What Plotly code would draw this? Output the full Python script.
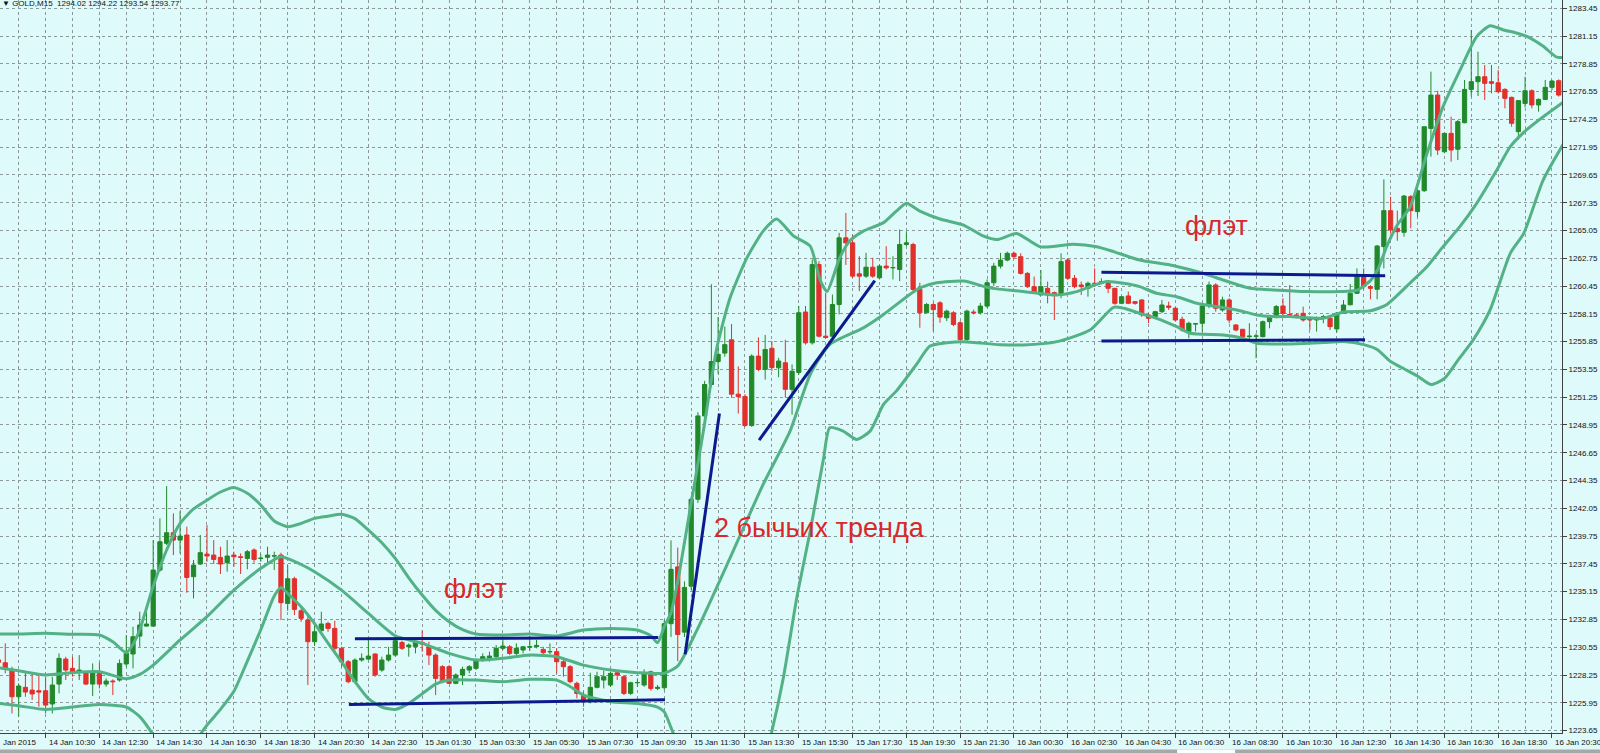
import plotly.graph_objects as go

# ---------------- DATA ----------------
bars = list(range(-1, 232))  # M15 bar index, bar 6 = 14 Jan 10:30

opens = [1229.50,
 1229.27,1228.72,1226.45,1227.23,1227.00,1226.95,1226.95,1225.85,1227.50,1229.57,
 1228.80,1228.52,1228.44,1227.50,1228.52,1227.50,1227.75,1227.83,1229.16,1229.99,
 1231.47,1232.30,1232.30,1236.94,1239.15,1240.03,1239.42,1239.84,1236.39,1237.44,
 1238.26,1238.18,1237.99,1237.55,1238.18,1238.04,1237.90,1238.60,1237.90,1237.99,
 1238.10,1238.18,1234.18,1236.22,1233.57,1232.80,1231.01,1231.92,1232.52,1232.11,
 1230.46,1229.35,1227.70,1229.49,1229.57,1229.99,1228.66,1229.49,1229.90,1230.95,
 1230.59,1230.59,1230.95,1230.59,1229.90,1228.94,1228.94,1227.56,1228.25,1228.66,
 1228.80,1229.49,1229.63,1229.77,1230.46,1230.59,1230.04,1230.32,1230.55,1230.60,
 1230.37,1230.18,1230.18,1229.35,1228.94,1227.56,1226.59,1226.04,1227.23,1227.83,
 1227.42,1228.44,1228.11,1226.73,1227.61,1227.42,1228.52,1227.14,1227.20,1232.50,
 1237.20,1231.80,1235.60,1242.80,1249.70,1252.30,1254.20,1254.90,1256.00,1251.50,
 1251.30,1248.90,1254.65,1253.55,1255.30,1253.68,1254.10,1251.90,1253.30,1258.30,
 1255.75,1262.23,1256.30,1256.30,1258.92,1264.44,1264.03,1261.46,1261.27,1262.01,
 1261.13,1262.10,1261.96,1261.82,1263.89,1263.89,1260.17,1258.24,1258.92,1259.06,
 1257.82,1258.24,1257.41,1256.03,1258.30,1258.24,1258.79,1260.72,1262.10,1262.60,
 1263.16,1262.88,1261.50,1260.40,1259.71,1260.26,1259.90,1259.71,1262.61,1261.09,
 1260.54,1260.26,1260.68,1260.68,1260.68,1260.26,1259.02,1259.63,1259.16,1259.30,
 1258.06,1257.92,1258.33,1258.80,1258.61,1257.70,1256.68,1257.31,1257.37,1258.88,
 1260.54,1258.47,1259.30,1257.23,1256.87,1256.26,1256.30,1256.26,1257.50,1257.92,
 1258.80,1258.10,1258.06,1258.19,1257.78,1257.64,1257.78,1257.78,1256.90,1258.20,
 1258.90,1259.85,1261.22,1260.40,1260.18,1263.71,1266.69,1265.23,1264.90,1267.85,
 1266.61,1268.34,1273.50,1276.26,1271.57,1273.09,1271.77,1273.97,1276.73,1277.37,
 1277.78,1277.37,1277.28,1276.73,1276.07,1273.23,1275.57,1276.62,1275.44,1275.90,
 1276.90,1277.45]

highs = [1229.60,
 1230.87,1228.94,1227.56,1228.44,1228.44,1228.17,1228.11,1228.11,1230.04,1229.76,
 1229.76,1229.90,1228.52,1229.21,1229.27,1227.97,1227.89,1229.54,1231.56,1232.25,
 1233.49,1233.49,1239.42,1241.22,1243.89,1241.63,1241.80,1240.53,1237.77,1239.84,
 1240.66,1239.42,1238.87,1239.42,1238.46,1238.32,1238.60,1238.73,1238.26,1238.87,
 1238.46,1238.37,1237.35,1236.39,1233.77,1233.35,1232.66,1233.49,1232.66,1232.75,
 1230.59,1229.49,1229.63,1230.04,1231.15,1230.04,1229.77,1230.59,1231.42,1231.09,
 1230.87,1231.20,1231.92,1231.01,1230.04,1229.07,1229.07,1228.39,1228.94,1229.07,
 1229.63,1230.04,1230.18,1230.73,1231.20,1230.73,1230.87,1230.65,1231.48,1231.15,
 1230.59,1230.87,1230.46,1229.63,1229.07,1227.70,1226.87,1228.44,1228.52,1228.61,
 1228.52,1228.52,1228.25,1227.70,1227.89,1228.72,1228.61,1227.42,1232.80,1239.40,
 1238.80,1236.00,1243.00,1250.00,1252.60,1260.60,1257.90,1257.10,1257.30,1253.80,
 1251.50,1254.80,1256.20,1256.40,1255.90,1254.50,1256.00,1253.96,1258.80,1258.80,
 1262.65,1262.50,1259.90,1259.75,1264.85,1266.50,1264.70,1262.92,1263.20,1262.79,
 1262.23,1263.75,1262.92,1265.13,1264.99,1264.03,1260.72,1259.06,1259.06,1259.20,
 1258.50,1258.37,1257.55,1258.50,1258.50,1259.06,1261.00,1262.37,1263.20,1263.30,
 1263.30,1263.16,1261.60,1261.23,1261.78,1260.82,1260.00,1263.16,1262.75,1261.37,
 1260.82,1260.82,1261.92,1261.09,1260.95,1260.30,1259.60,1259.99,1259.20,1259.35,
 1258.20,1258.40,1259.30,1259.16,1258.70,1257.92,1257.50,1257.37,1258.88,1260.82,
 1260.68,1259.57,1259.44,1257.30,1256.90,1257.37,1256.54,1257.60,1258.06,1258.88,
 1259.44,1260.54,1258.19,1258.75,1257.92,1257.92,1258.06,1258.06,1258.30,1259.29,
 1260.62,1261.91,1261.91,1260.53,1263.85,1269.28,1267.85,1266.69,1267.99,1267.99,
 1268.54,1273.64,1278.20,1276.62,1273.09,1274.47,1274.19,1277.51,1281.65,1279.85,
 1278.75,1278.75,1278.33,1276.82,1276.13,1275.85,1277.78,1276.73,1275.99,1277.51,
 1277.51,1277.56]

lows = [1229.20,
 1228.39,1225.07,1224.80,1226.45,1226.18,1225.63,1225.07,1225.07,1226.73,1227.83,
 1228.11,1227.83,1227.42,1226.51,1227.14,1227.28,1226.59,1227.70,1228.94,1228.80,
 1230.59,1232.25,1232.25,1236.80,1239.01,1238.18,1238.32,1235.06,1234.59,1237.35,
 1237.63,1237.44,1236.61,1236.80,1237.22,1236.61,1237.00,1237.55,1237.63,1237.49,
 1236.94,1232.80,1233.57,1233.21,1232.66,1227.42,1230.65,1231.70,1231.83,1230.18,
 1228.94,1227.56,1227.56,1229.35,1229.49,1228.11,1228.52,1229.35,1229.77,1230.32,
 1229.77,1230.04,1230.18,1229.07,1226.59,1227.56,1227.50,1227.50,1227.42,1228.39,
 1228.66,1229.35,1229.35,1229.63,1230.32,1229.90,1229.90,1230.04,1230.26,1230.46,
 1229.99,1229.99,1228.39,1228.11,1227.56,1226.32,1225.63,1225.90,1227.14,1227.14,
 1227.28,1227.83,1226.59,1226.59,1227.28,1227.28,1226.95,1227.00,1227.00,1231.40,
 1229.40,1231.40,1235.30,1242.50,1249.40,1252.10,1253.20,1254.60,1251.20,1249.90,
 1248.80,1248.80,1253.40,1252.70,1253.40,1252.90,1251.20,1249.80,1253.10,1255.60,
 1255.60,1256.20,1256.10,1256.17,1258.10,1262.20,1261.13,1260.03,1261.13,1261.13,
 1261.00,1261.82,1261.00,1260.86,1263.75,1260.03,1257.00,1258.24,1256.72,1257.41,
 1257.55,1257.13,1255.75,1255.75,1258.10,1258.10,1258.65,1260.44,1261.90,1262.50,
 1262.70,1261.40,1260.30,1259.85,1259.71,1259.02,1257.64,1259.44,1260.95,1260.26,
 1259.71,1259.57,1260.40,1260.60,1259.85,1258.90,1258.95,1258.95,1258.90,1257.90,
 1257.37,1257.80,1258.20,1258.47,1257.50,1256.68,1256.12,1256.68,1256.68,1258.61,
 1258.33,1258.33,1257.37,1256.70,1256.10,1255.85,1254.47,1256.20,1256.95,1257.78,
 1257.92,1257.92,1257.78,1257.50,1256.81,1256.68,1257.37,1256.81,1256.60,1258.19,
 1258.85,1259.80,1260.18,1259.35,1259.35,1261.91,1264.81,1264.20,1264.54,1265.23,
 1266.19,1268.25,1271.16,1271.30,1271.44,1270.75,1270.88,1273.92,1276.13,1276.18,
 1275.85,1276.40,1276.40,1275.16,1273.64,1272.54,1275.24,1275.16,1274.89,1275.85,
 1276.68,1276.13]

closes = [1229.30,
 1228.72,1226.45,1227.34,1226.84,1226.68,1226.84,1225.76,1227.42,1229.63,1228.66,
 1228.52,1228.66,1227.50,1228.44,1227.50,1227.75,1227.70,1229.21,1230.04,1231.42,
 1232.39,1232.47,1236.94,1239.28,1240.03,1239.42,1239.75,1236.33,1237.35,1238.38,
 1238.10,1237.82,1237.44,1238.10,1238.04,1237.99,1238.46,1237.82,1237.92,1238.18,
 1238.12,1234.24,1236.22,1233.68,1232.94,1231.01,1231.83,1232.47,1232.11,1230.46,
 1229.35,1227.70,1229.49,1229.63,1229.82,1228.25,1229.49,1229.90,1231.09,1230.46,
 1230.73,1231.01,1230.81,1229.90,1227.97,1227.70,1227.56,1228.25,1228.72,1228.94,
 1229.49,1229.77,1229.82,1230.46,1230.65,1230.04,1230.46,1230.59,1230.60,1230.70,
 1230.10,1230.18,1229.35,1228.94,1227.70,1226.73,1226.04,1227.23,1228.11,1228.11,
 1228.39,1228.25,1226.73,1227.61,1227.63,1228.39,1227.14,1227.23,1232.50,1237.00,
 1231.60,1235.50,1242.80,1249.70,1252.30,1254.20,1254.80,1255.60,1251.50,1251.30,
 1248.90,1254.65,1253.55,1255.20,1253.70,1254.24,1251.90,1253.40,1258.24,1255.75,
 1262.23,1256.30,1256.20,1258.92,1264.44,1264.03,1261.27,1261.27,1262.01,1261.27,
 1262.10,1261.96,1261.98,1263.89,1264.03,1260.17,1258.24,1258.92,1258.50,1257.88,
 1258.37,1257.27,1256.03,1258.37,1258.24,1258.79,1260.72,1262.10,1262.60,1263.16,
 1262.88,1261.50,1260.40,1259.99,1260.40,1259.71,1259.85,1262.47,1261.09,1260.40,
 1260.40,1260.68,1260.66,1260.82,1260.26,1259.02,1259.57,1259.02,1259.02,1258.06,
 1257.78,1258.33,1258.88,1258.69,1257.64,1256.81,1257.37,1257.33,1258.80,1260.54,
 1258.61,1259.30,1257.64,1256.81,1256.26,1256.30,1256.32,1257.50,1257.92,1258.75,
 1258.19,1258.06,1257.92,1257.64,1257.64,1257.78,1257.92,1257.09,1258.20,1258.88,
 1259.85,1261.22,1260.40,1260.26,1263.76,1266.69,1265.09,1264.95,1267.90,1266.69,
 1268.34,1273.64,1276.26,1271.71,1273.09,1271.71,1274.06,1276.73,1277.37,1277.78,
 1277.23,1277.23,1276.54,1275.99,1273.92,1275.80,1276.62,1275.44,1275.90,1276.90,
 1277.42,1276.26]

# Bollinger band lines (bar index, price)
upper_x = [-1, 2, 6, 10, 14, 16, 18, 19, 20, 22, 24, 26, 28, 30, 32, 34, 36, 38, 40, 42, 44, 46, 48, 50,
           52, 54, 56, 58, 60, 62, 64, 66, 68, 70, 74, 78, 82, 86, 90, 94, 96, 97, 98, 99, 100, 101.3,
           103.8, 105.8, 107.8, 110.3, 112.7, 114.7, 117.2, 119.7, 121.2, 122.2, 124.1, 125.6, 127.6,
           130.6, 132.5, 134, 136, 139, 142.5, 145.4, 147.5, 150.4, 153.9, 158.8, 162.3, 164.8, 168.7,
           173.2, 176.2, 178.7, 181.1, 185.1, 188.6, 193.5, 198.5, 201, 203, 204.1, 205.4, 207, 208.9,
           211.4, 213.8, 216.3, 218.8, 220.8, 222.8, 224.7, 226.7, 228.7, 230.7, 232]
upper_y = [1231.64, 1231.64, 1231.70, 1231.62, 1231.56, 1231.0, 1230.1, 1230.8, 1232.0, 1235.6, 1238.6,
           1240.8, 1242.0, 1242.73, 1243.4, 1243.78, 1243.3, 1242.32, 1241.0, 1240.53, 1240.8, 1241.22,
           1241.4, 1241.55, 1241.2, 1240.25, 1239.2, 1237.9, 1236.3, 1234.87, 1233.6, 1232.66, 1232.0,
           1231.64, 1231.56, 1231.64, 1231.48, 1231.97, 1232.11, 1231.97, 1231.5, 1230.92, 1232.25,
           1233.4, 1236.0, 1240.2, 1248.4, 1255.3, 1259.5, 1262.8, 1265.0, 1266.0, 1264.6, 1263.75,
           1260.9, 1260.0, 1262.8, 1264.2, 1265.0, 1265.7, 1266.65, 1267.3, 1266.65, 1266.0, 1265.5,
           1264.6, 1264.3, 1264.8, 1263.7, 1263.9, 1263.7, 1263.3, 1262.6, 1262.2, 1261.8, 1261.4,
           1260.95, 1260.26, 1260.13, 1260.0, 1260.0, 1260.1, 1260.9, 1261.8, 1263.7, 1265.5, 1267.0,
           1271.4, 1275.3, 1278.3, 1281.1, 1282.0, 1281.65, 1281.4, 1281.0, 1280.3, 1279.4, 1279.4]

mid_x = [-1, 2, 6, 10, 14, 18, 20, 22, 26, 30, 34, 38, 41, 44, 46, 50, 54, 58, 62, 66, 70, 74, 78, 82,
         86, 90, 94, 98, 100, 102.8, 107.8, 112.7, 116.7, 119.7, 122.6, 127.6, 130.6, 134.5, 136,
         138.5, 142.5, 146.4, 151.4, 156.4, 159.3, 161.3, 163.8, 166.3, 168.7, 171.2, 174.2, 177.2,
         180.1, 183.1, 186.1, 188.6, 191, 196, 199, 203, 205.4, 208.9, 211.4, 213.8, 216.3, 218.8,
         221.8, 223.8, 226.2, 228.7, 232]
mid_y = [1228.85, 1228.6, 1228.25, 1228.44, 1228.52, 1227.95, 1228.3, 1229.07, 1231.15, 1233.08,
         1235.28, 1237.08, 1238.05, 1237.4, 1236.8, 1235.28, 1233.35, 1231.5, 1230.87, 1230.04,
         1229.49, 1229.63, 1229.9, 1229.77, 1229.07, 1228.66, 1228.44, 1228.4, 1229.0, 1231.9,
         1237.96, 1244.03, 1248.44, 1253.13, 1255.61, 1256.99, 1258.1, 1259.75, 1260.3, 1260.72,
         1260.86, 1260.3, 1260.0, 1259.71, 1259.99, 1260.4, 1260.82, 1260.68, 1260.4, 1259.85,
         1259.57, 1259.02, 1258.75, 1258.47, 1258.06, 1257.92, 1257.92, 1257.78, 1258.3, 1258.4,
         1258.9, 1260.7, 1262.05, 1263.71, 1265.37, 1267.3, 1270.06, 1271.99, 1273.37, 1274.47,
         1275.8]

lower_x = [-1, 2, 6, 10, 14, 18, 20, 22, 24, 26, 28, 29, 30, 32, 34, 36, 38, 40, 41, 42, 44, 46, 48,
           50, 52, 54, 56, 58, 60, 62, 64, 66, 70, 74, 78, 82, 84, 86, 90, 94, 97, 98, 99, 100, 102,
           106, 110, 113, 114, 115.7, 117.7, 119.7, 121.7, 122.6, 124.6, 126.6, 128.6, 130.6, 132.5,
           135.5, 137.5, 140, 142.5, 147.9, 151.4, 156.4, 161.3, 164.8, 166.3, 168.7, 171.2, 174.2,
           176.2, 181.1, 184.1, 186.1, 191, 196, 199, 202, 204, 206, 208, 210, 212, 214, 216, 218.3,
           220.8, 223.8, 225.8, 228.7, 232]
lower_y = [1225.9, 1225.7, 1225.4, 1225.6, 1225.8, 1225.6, 1224.8, 1223.3, 1221.5, 1220.8, 1222.0,
           1223.3, 1224.1, 1225.4, 1226.9, 1229.4, 1232.0, 1234.8, 1235.5, 1235.0, 1233.9, 1232.5,
           1230.9, 1229.35, 1227.7, 1226.3, 1225.6, 1225.4, 1225.9, 1226.7, 1227.5, 1227.83, 1227.83,
           1227.7, 1227.89, 1227.83, 1227.3, 1226.59, 1226.04, 1225.9, 1225.6, 1225.2, 1223.9, 1222.5,
           1219.5, 1216.5, 1217.2, 1221.5, 1223.6, 1228.0, 1234.65, 1240.17, 1246.24, 1248.72,
           1248.44, 1247.75, 1248.44, 1250.65, 1251.75, 1253.96, 1255.48, 1255.75, 1255.84, 1255.6,
           1255.57, 1255.85, 1256.81, 1258.69, 1258.61, 1258.19, 1257.78, 1257.09, 1256.54, 1256.4,
           1256.12, 1255.71, 1255.66, 1255.77, 1255.85, 1255.6, 1255.2, 1254.2, 1253.6, 1253.0,
           1252.3, 1252.8, 1254.3, 1256.0, 1258.47, 1263.16, 1264.81, 1269.23, 1272.5]

# hand-drawn blue lines (start bar, start price, end bar, end price)
seg_x0 = [52.0, 51.1, 101.1, 112.1, 163.0, 163.0]
seg_y0 = [1231.25, 1225.8, 1229.97, 1247.7, 1261.6, 1255.9]
seg_x1 = [97.1, 98.1, 106.2, 129.3, 205.2, 202.2]
seg_y1 = [1231.35, 1226.2, 1249.9, 1260.9, 1261.3, 1256.0]

note_text = ["флэт", "2 бычьих тренда", "флэт"]
note_x = [70.0, 121.1, 180.1]
note_y = [1235.4, 1240.4, 1265.4]

time_tick_bars = list(range(6, 231, 8))
time_tick_text = ["14 Jan 10:30", "14 Jan 12:30", "14 Jan 14:30", "14 Jan 16:30", "14 Jan 18:30",
                  "14 Jan 20:30", "14 Jan 22:30", "15 Jan 01:30", "15 Jan 03:30", "15 Jan 05:30",
                  "15 Jan 07:30", "15 Jan 09:30", "15 Jan 11:30", "15 Jan 13:30", "15 Jan 15:30",
                  "15 Jan 17:30", "15 Jan 19:30", "15 Jan 21:30", "16 Jan 00:30", "16 Jan 02:30",
                  "16 Jan 04:30", "16 Jan 06:30", "16 Jan 08:30", "16 Jan 10:30", "16 Jan 12:30",
                  "16 Jan 14:30", "16 Jan 16:30", "16 Jan 18:30", "16 Jan 20:30"]

price_ticks = [1223.65, 1225.95, 1228.25, 1230.55, 1232.85, 1235.15, 1237.45, 1239.75, 1242.05,
               1244.35, 1246.65, 1248.95, 1251.25, 1253.55, 1255.85, 1258.15, 1260.45, 1262.75,
               1265.05, 1267.35, 1269.65, 1271.95, 1274.25, 1276.55, 1278.85, 1281.15, 1283.45]
price_labels = ["%.2f" % v for v in price_ticks]

header_text = "▼ GOLD,M15  1294.02 1294.22 1293.54 1293.77"

# ---------------- STYLE ----------------
BG = "#dffafa"
GRID = "#8a9a9a"
AX = "#404040"
GREEN = "#22892a"
RED = "#e2302c"
BAND = "#52b285"
BLUE = "#0c1a8e"
TXT = "#d8282c"
FONT = "Liberation Sans, Arial, sans-serif"

fig = go.Figure()

fig.add_trace(go.Candlestick(
    x=bars, open=opens, high=highs, low=lows, close=closes,
    increasing=dict(line=dict(color=GREEN, width=1), fillcolor=GREEN),
    decreasing=dict(line=dict(color=RED, width=1), fillcolor=RED),
    whiskerwidth=0, showlegend=False, hoverinfo="skip"))

for bx, by in ((upper_x, upper_y), (mid_x, mid_y), (lower_x, lower_y)):
    fig.add_trace(go.Scatter(x=bx, y=by, mode="lines",
                             line=dict(color=BAND, width=3, shape="spline", smoothing=0.6),
                             showlegend=False, hoverinfo="skip"))

for x0, y0, x1, y1 in zip(seg_x0, seg_y0, seg_x1, seg_y1):
    fig.add_trace(go.Scatter(x=[x0, x1], y=[y0, y1], mode="lines",
                             line=dict(color=BLUE, width=3), showlegend=False, hoverinfo="skip"))

annotations = []
for t, x, y in zip(note_text, note_x, note_y):
    annotations.append(dict(x=x, y=y, xref="x", yref="y", text=t, showarrow=False,
                            font=dict(family=FONT, size=27, color=TXT)))
for b, t in zip(time_tick_bars, time_tick_text):
    annotations.append(dict(x=b, y=0, xref="x", yref="paper", text=t, showarrow=False,
                            xanchor="left", yanchor="top", xshift=1, yshift=-3,
                            font=dict(family=FONT, size=8, color="#111111")))
annotations.append(dict(x=0, y=0, xref="paper", yref="paper", text="Jan 2015", showarrow=False,
                        xanchor="left", yanchor="top", xshift=1, yshift=-3,
                        font=dict(family=FONT, size=8, color="#111111")))
annotations.append(dict(x=0, y=1, xref="paper", yref="paper", text=header_text, showarrow=False,
                        xanchor="left", yanchor="top", xshift=0, yshift=3,
                        font=dict(family=FONT, size=8, color="#111111")))

fig.update_layout(
    width=1600, height=753,
    margin=dict(l=0, r=38, t=0, b=20),
    paper_bgcolor=BG, plot_bgcolor=BG,
    showlegend=False,
    boxgap=0.3, boxgroupgap=0.1,
    font=dict(family=FONT, size=8, color="#111111"),
    annotations=annotations,
    shapes=[
        dict(type="rect", xref="paper", yref="paper", x0=-0.01, x1=1.03, y0=-0.0275, y1=-0.0225,
             fillcolor="#a8a8a8", line=dict(width=0), layer="above"),
        dict(type="rect", xref="paper", yref="paper", x0=0.7536, x1=0.7907, y0=-0.0275, y1=-0.0225,
             fillcolor="#ffffff", line=dict(width=0), layer="above"),
    ],
    xaxis=dict(range=[-0.78, 231.49], tickmode="array", tickvals=time_tick_bars,
               ticktext=[""] * len(time_tick_bars), showticklabels=False,
               ticks="outside", ticklen=4, tickcolor=AX, showline=True, linecolor=AX, linewidth=1,
               showgrid=True, gridcolor=GRID, gridwidth=1, griddash="3px,3px",
               minor=dict(tickmode="linear", tick0=2, dtick=4, showgrid=True, gridcolor=GRID,
                          gridwidth=1, griddash="3px,3px"),
               zeroline=False, rangeslider=dict(visible=False), fixedrange=True),
    yaxis=dict(side="right", range=[1223.45, 1284.13], tickmode="array", tickvals=price_ticks,
               ticktext=price_labels, ticks="outside", ticklen=4, tickcolor=AX,
               showline=True, linecolor=AX, linewidth=1,
               showgrid=True, gridcolor=GRID, gridwidth=1, griddash="3px,3px",
               zeroline=False, tickfont=dict(family=FONT, size=8, color="#111111"), fixedrange=True),
)

fig.write_html("out.html", config={"displayModeBar": False},
               post_script="document.body.style.margin='0';document.body.style.overflow='hidden';")
